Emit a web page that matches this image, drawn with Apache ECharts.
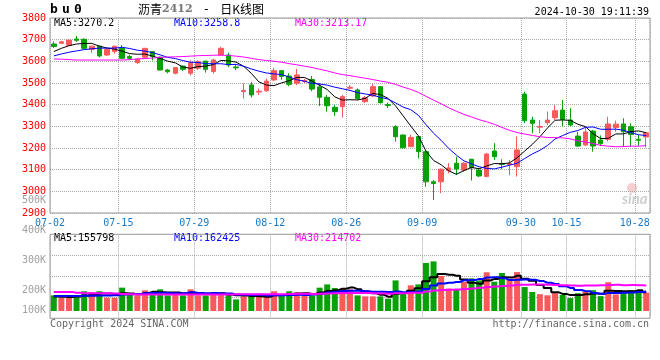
<!DOCTYPE html>
<html><head><meta charset="utf-8">
<script src="https://cdn.jsdelivr.net/npm/echarts@6/dist/echarts.min.js"></script>
<style>html,body{margin:0;padding:0;background:#fff}#c{width:660px;height:360px}</style>
</head><body><div id="c"></div>
<script>
// ---- data ----
const dates = ['07-02','07-03','07-04','07-05','07-08','07-09','07-10','07-11','07-12','07-15','07-16','07-17','07-18','07-19','07-22','07-23','07-24','07-25','07-26','07-29','07-30','07-31','08-01','08-02','08-05','08-06','08-07','08-08','08-09','08-12','08-13','08-14','08-15','08-16','08-19','08-20','08-21','08-22','08-23','08-26','08-27','08-28','08-29','08-30','09-02','09-03','09-04','09-05','09-06','09-09','09-10','09-11','09-12','09-13','09-18','09-19','09-20','09-23','09-24','09-25','09-26','09-27','09-30','10-08','10-09','10-10','10-11','10-14','10-15','10-16','10-17','10-18','10-21','10-22','10-23','10-24','10-25','10-28','10-29'];
const labelDates = ['07-02','07-15','07-29','08-12','08-26','09-09','09-30','10-15','10-28'];
const opens = [3680,3683,3674,3703,3702,3655,3670,3629,3645,3660, 3622,3594,3619,3645,3619,3560,3545,3578,3545,3568, 3601,3553,3629,3629,3574,3460,3491,3458,3464,3514, 3557,3532,3499,3507,3516,3482,3434,3388,3391,3476, 3468,3414,3440,3483,3400,3298,3260,3206,3253,3183, 3044,3044,3096,3130,3098,3148,3098,3068,3186,3128, 3124,3114,3449,3329,3296,3317,3340,3375,3329,3255, 3214,3278,3237,3240,3295,3311,3298,3240,3251];
const closes = [3668,3690,3698,3697,3660,3670,3625,3655,3670,3614, 3614,3610,3660,3622,3560,3552,3571,3563,3594,3598, 3563,3606,3660,3583,3570,3466,3445,3462,3509,3557, 3530,3494,3537,3511,3472,3434,3395,3368,3437,3480, 3428,3432,3483,3409,3396,3252,3201,3249,3183,3044, 3036,3102,3108,3103,3130,3109,3071,3172,3160,3124, 3128,3191,3326,3314,3300,3329,3372,3332,3306,3209, 3274,3209,3220,3311,3310,3275,3262,3236,3270];
const lows = [3662,3680,3672,3690,3655,3640,3618,3625,3635,3610, 3605,3588,3615,3604,3558,3545,3540,3555,3535,3560, 3548,3543,3625,3573,3560,3429,3433,3445,3460,3510, 3515,3485,3490,3500,3462,3394,3368,3348,3340,3470, 3422,3408,3436,3405,3385,3230,3196,3206,3152,3021, 2960,2992,3083,3075,3090,3050,3066,3066,3145,3102, 3075,3068,3314,3268,3268,3306,3329,3301,3301,3205, 3209,3183,3209,3230,3275,3206,3206,3209,3203];
const highs = [3692,3695,3700,3717,3706,3672,3672,3660,3672,3675, 3630,3612,3662,3648,3622,3565,3573,3580,3605,3605, 3603,3612,3667,3640,3585,3499,3504,3475,3520,3570, 3560,3545,3565,3520,3532,3499,3445,3398,3445,3490, 3475,3440,3495,3483,3410,3305,3262,3262,3255,3185, 3052,3106,3130,3160,3135,3150,3108,3178,3222,3148, 3145,3253,3460,3344,3329,3368,3398,3421,3383,3275, 3298,3283,3258,3344,3326,3337,3314,3260,3272];
const volumes = [129000,110000,110000,129000,163000,157000,163000,110000,110000,193000, 146000,129000,171000,152000,179000,129000,138000,129000,179000,129000, 129000,146000,146000,135000,96000,121000,121000,135000,116000,163000, 129000,163000,154000,129000,129000,193000,220000,190000,185000,179000, 129000,121000,121000,121000,102000,253000,152000,212000,220000,397000, 410000,289000,185000,179000,240000,270000,253000,320000,242000,314000, 260000,322000,198000,157000,139000,130000,148000,133000,107000,147000, 160000,172000,123000,238000,137000,147000,172000,164000,152000];
// moving-average values before enough in-window data exist
const ma5Head = [3645,3660,3672,3680];
const ma10Head = [3625,3634,3642,3648,3654,3658,3661,3661,3661];
const ma30Head = [3611,3610,3608,3606,3606,3606,3606,3606,3606,3606,3608,3611,3613,3615,3618,3620,3621,3622,3624,3626,3627,3628,3629,3627,3624,3620,3614,3608,3604];
const volMa5Head = [120000,118000,115000,120000];
const volMa10Head = [124000,124000,125000,125000,126000,127000,128000,129000,130000];
const volMa30Head = [157000,157000,157000,150000,146000,146000,146000,146000,145000,140000,138000,137000,137000,136000,136000,136000,136000,136000,136000,136000,137000,137000,137000,137000,138000,138000,138000,138000,138000];
const priceLegend = ['MA5:3270.2','MA10:3258.8','MA30:3213.17'];
const volLegend = ['MA5:155798','MA10:162425','MA30:214702'];
const volTickLabels = ['500K','400K','300K','200K','100K'];

// ---- build ----
function ma(vals, n, head){
  return vals.map((v,i)=>{
    if(i < n-1) return head[i];
    let s=0; for(let k=i-n+1;k<=i;k++) s+=vals[k];
    return +(s/n).toFixed(2);
  });
}
const UP='#f65a5a', DOWN='#0aa00a';
const mono="'DejaVu Sans Mono', monospace";
const labelIdx = labelDates.map(d=>dates.indexOf(d));
const kData = dates.map((d,i)=>[opens[i],closes[i],lows[i],highs[i]]);
const volData = volumes.map((v,i)=>({value:v, itemStyle:{color: closes[i]>=opens[i]?UP:DOWN}}));
const grid0={left:50, top:18, width:600, height:195};
const grid1={left:50, top:234.3, width:600, height:84};
const dotted={color:'#aaa', type:'dotted', width:1};

const legendColors=['#000000','#0000ff','#ff00ff'];
const legendX=[54,174,295];
const graphics=[];
priceLegend.forEach((t,k)=>graphics.push({type:'text', x:legendX[k], y:23.5, style:{text:t, fill:legendColors[k], font:'10px '+mono, verticalAlign:'middle'}}));
volLegend.forEach((t,k)=>graphics.push({type:'text', x:legendX[k], y:238.5, style:{text:t, fill:legendColors[k], font:'10px '+mono, verticalAlign:'middle'}}));
const volLabelY=[200.7,230.7,260.7,290.7,310];
volTickLabels.forEach((t,k)=>graphics.push({type:'text', x:46, y:volLabelY[k], style:{text:t, fill:'#a0a0a0', font:'10px '+mono, align:'right', verticalAlign:'middle'}}));
graphics.push({type:'text', x:50, y:10, style:{text:'{s|b}{s|u}{s|0}', rich:{s:{width:12, fontSize:13, fontWeight:'bold', fontFamily:mono, fill:'#000'}}, verticalAlign:'middle'}});
graphics.push({type:'text', x:201, y:9.5, style:{text:'{a|沥青}{b|2412}{c| - }{a|日K线图}', align:'center', verticalAlign:'middle',
  rich:{a:{fontSize:12, fontFamily:"'Noto Sans CJK SC'", fill:'#000'}, b:{fontSize:11, fontFamily:"'DejaVu Serif', serif", fontWeight:'bold', fill:'#777'}, c:{fontSize:12, fontFamily:mono, fill:'#000', padding:[0,3,0,3]}}}});
graphics.push({type:'text', x:649, y:12, style:{text:'2024-10-30 19:11:39', fill:'#000', font:'10px '+mono, align:'right', verticalAlign:'middle'}});
graphics.push({type:'text', x:50, y:324, style:{text:'Copyright 2024 SINA.COM', fill:'#666', font:'10px '+mono, verticalAlign:'middle'}});
graphics.push({type:'text', x:649, y:324, style:{text:'http://finance.sina.com.cn', fill:'#666', font:'10px '+mono, align:'right', verticalAlign:'middle'}});
graphics.push({type:'circle', shape:{cx:632, cy:188, r:5}, style:{fill:'#f6cfcf'}, z:-1});
graphics.push({type:'text', x:622, y:199, style:{text:'sina', fill:'#cfcfcf', font:'italic bold 15px Lato', verticalAlign:'middle'}, z:-1});

const option={
  animation:false,
  backgroundColor:'#fff',
  grid:[Object.assign({show:true, borderColor:'#999', borderWidth:1}, grid0), Object.assign({show:true, borderColor:'#999', borderWidth:1}, grid1)],
  xAxis:[
    {type:'category', gridIndex:0, data:dates, boundaryGap:true, axisLine:{show:false}, axisTick:{show:false},
     axisLabel:{interval:(i)=>labelIdx.includes(i), color:'#1a7ac8', fontFamily:mono, fontSize:10, margin:5, padding:[0,7.6,0,0]},
     splitLine:{show:true, interval:(i)=>labelIdx.includes(i), lineStyle:dotted}},
    {type:'category', gridIndex:1, data:dates, boundaryGap:true, axisLine:{show:false}, axisTick:{show:false}, axisLabel:{show:false},
     splitLine:{show:true, interval:(i)=>labelIdx.includes(i), lineStyle:dotted}}
  ],
  yAxis:[
    {type:'value', gridIndex:0, min:2900, max:3800, interval:100, axisLine:{show:false}, axisTick:{show:false},
     axisLabel:{color:'#ff0000', fontFamily:mono, fontSize:10, margin:4, padding:[0,0,4,0], formatter:(v)=>String(v)}, splitLine:{lineStyle:dotted}},
    {type:'value', gridIndex:1, min:-60300, max:633900, axisLine:{show:false}, axisTick:{show:false}, axisLabel:{show:false}, splitLine:{show:false}},
    {type:'value', gridIndex:1, min:0, max:4, interval:1, axisLine:{show:false}, axisTick:{show:false}, axisLabel:{show:false}, splitLine:{lineStyle:dotted}}
  ],
  series:[
    {type:'candlestick', xAxisIndex:0, yAxisIndex:0, data:kData, barWidth:5,
     itemStyle:{color:UP, color0:DOWN, borderColor:UP, borderColor0:DOWN, borderWidth:1}},
    {type:'line', xAxisIndex:0, yAxisIndex:0, data:ma(closes,5,ma5Head), symbol:'none', lineStyle:{color:'#000', width:1}, z:5},
    {type:'line', xAxisIndex:0, yAxisIndex:0, data:ma(closes,10,ma10Head), symbol:'none', lineStyle:{color:'#0000ff', width:1}, z:5},
    {type:'line', xAxisIndex:0, yAxisIndex:0, data:ma(closes,30,ma30Head), symbol:'none', lineStyle:{color:'#ff00ff', width:1}, z:5},
    {type:'bar', xAxisIndex:1, yAxisIndex:1, data:volData, barWidth:6},
    {type:'line', xAxisIndex:1, yAxisIndex:1, data:ma(volumes,5,volMa5Head), symbol:'none', step:'middle', lineStyle:{color:'#000', width:2}, z:5},
    {type:'line', xAxisIndex:1, yAxisIndex:1, data:ma(volumes,10,volMa10Head), symbol:'none', step:'middle', lineStyle:{color:'#0000ff', width:2}, z:5},
    {type:'line', xAxisIndex:1, yAxisIndex:1, data:ma(volumes,30,volMa30Head), symbol:'none', step:'middle', lineStyle:{color:'#ff00ff', width:2}, z:5}
  ],
  graphic:graphics
};
const chart=echarts.init(document.getElementById('c'), null, {renderer:'canvas'});
chart.setOption(option);
</script></body></html>
